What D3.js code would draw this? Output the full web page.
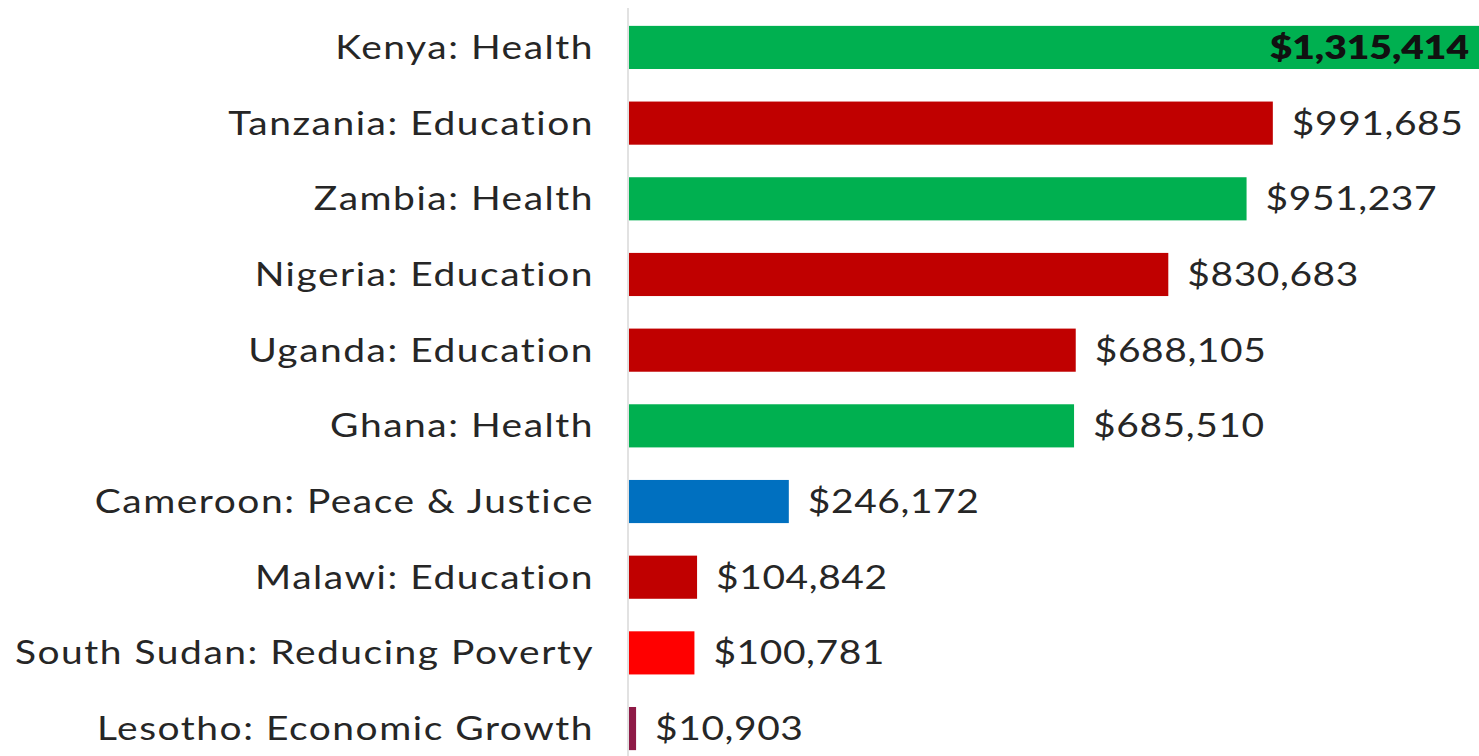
<!DOCTYPE html>
<html>
<head>
<meta charset="utf-8">
<script src="https://cdn.jsdelivr.net/npm/d3@7"></script>
<style>
  html, body { margin: 0; padding: 0; background: #fff; }
  svg { display: block; }
  text { font-family: Lato, "Open Sans", sans-serif; }
</style>
</head>
<body>
<svg id="chart" width="1479" height="756"></svg>
<script>
// Funding by country and focus area
const categories = [
  "Kenya: Health",
  "Tanzania: Education",
  "Zambia: Health",
  "Nigeria: Education",
  "Uganda: Education",
  "Ghana: Health",
  "Cameroon: Peace & Justice",
  "Malawi: Education",
  "South Sudan: Reducing Poverty",
  "Lesotho: Economic Growth"
];
const values = [1315414, 991685, 951237, 830683, 688105, 685510, 246172, 104842, 100781, 10903];
const sectors = ["Health", "Education", "Health", "Education", "Education", "Health",
                 "Peace & Justice", "Education", "Reducing Poverty", "Economic Growth"];

const sectorColor = {
  "Health": "#00b050",
  "Education": "#c00000",
  "Peace & Justice": "#0070c0",
  "Reducing Poverty": "#ff0000",
  "Economic Growth": "#8e1a46"
};

const W = 1479, H = 756;
const x0 = 629;
const textScaleX = 1.18;   // wide letterforms
const svg = d3.select("#chart");

// the longest bar runs slightly past the right edge of the canvas
const x = d3.scaleLinear().domain([0, d3.max(values)]).range([x0, 1483]);
const y = d3.scaleBand().domain(categories).range([9.6, 766.4])
  .paddingInner(0.43).paddingOuter(0.215);

const fmt = v => "$" + d3.format(",")(v);
const rows = categories.map((c, i) => ({ cat: c, value: values[i], sector: sectors[i] }));
const yc = d => y(d.cat) + y.bandwidth() / 2;

// baseline
svg.append("line")
  .attr("x1", x0 - 1).attr("x2", x0 - 1)
  .attr("y1", 8).attr("y2", H)
  .attr("stroke", "#d9d9d9").attr("stroke-width", 1.5);

// bars
svg.selectAll("rect.bar").data(rows).join("rect")
  .attr("class", "bar")
  .attr("x", x0)
  .attr("y", d => y(d.cat))
  .attr("width", d => x(d.value) - x0)
  .attr("height", y.bandwidth())
  .attr("fill", d => sectorColor[d.sector]);

// category labels
svg.selectAll("g.cat").data(rows).join("g")
  .attr("class", "cat")
  .attr("transform", d => `translate(594,${yc(d)}) scale(${textScaleX},1)`)
  .append("text")
  .attr("dy", "0.35em")
  .attr("text-anchor", "end")
  .attr("font-size", 33)
  .attr("letter-spacing", 1.3)
  .attr("fill", "#262626")
  .text(d => d.cat);

// value labels: inside the longest bar, outside the others
const maxV = d3.max(values);
svg.selectAll("g.val").data(rows).join("g")
  .attr("class", "val")
  .attr("transform", d => {
    const tx = d.value === maxV ? W - 10 : x(d.value) + 19;
    return `translate(${tx},${yc(d)}) scale(${textScaleX},1)`;
  })
  .append("text")
  .attr("dy", "0.35em")
  .attr("text-anchor", d => d.value === maxV ? "end" : "start")
  .attr("font-size", 33)
  .attr("letter-spacing", d => d.value === maxV ? 0 : 0.5)
  .attr("font-weight", d => d.value === maxV ? 800 : 400)
  .attr("fill", d => d.value === maxV ? "#111" : "#262626")
  .text(d => fmt(d.value));
</script>
</body>
</html>
